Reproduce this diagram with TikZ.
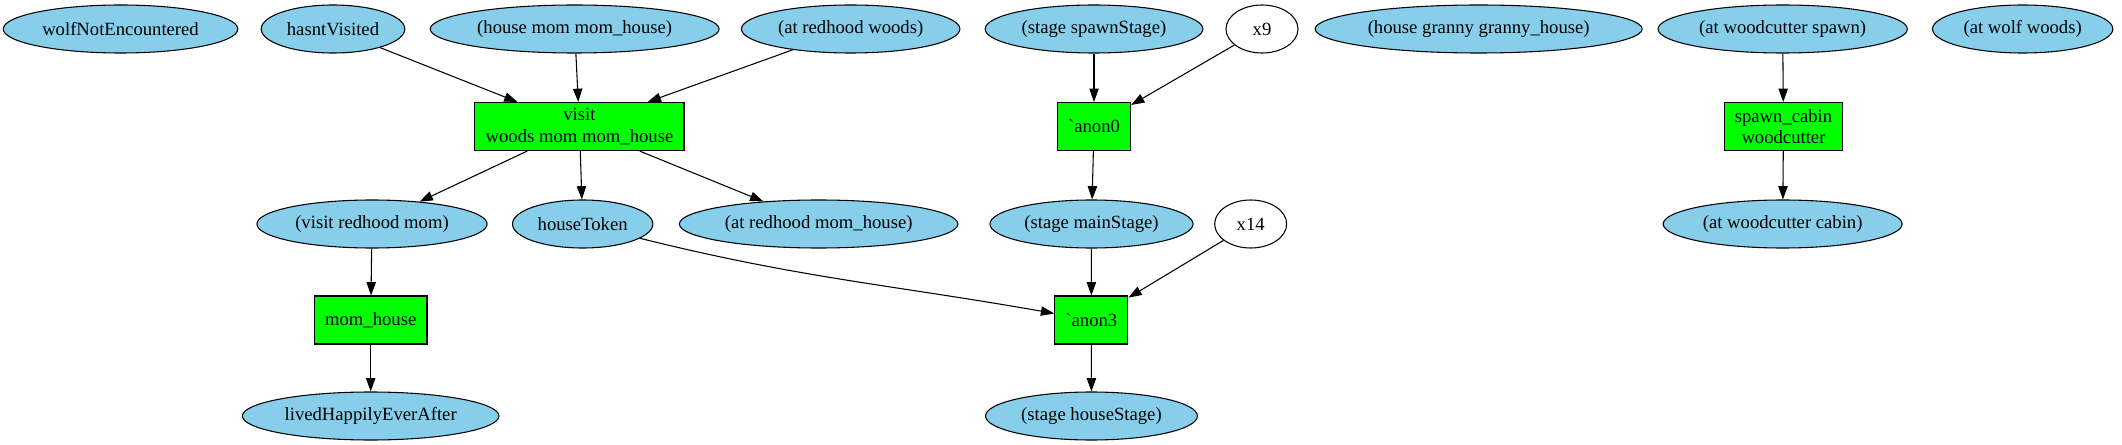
\documentclass[tikz,border=0pt]{standalone}
\usepackage{fontspec}
\setmainfont{Liberation Serif}
\usetikzlibrary{shapes.geometric,arrows.meta}
\definecolor{skyblue}{HTML}{87CEEB}
\definecolor{actgreen}{HTML}{00FF00}
\tikzstyle{fact-node} = [ellipse, draw=black, fill=skyblue, line width=0.8pt,
    inner xsep=3.5pt, inner ysep=2pt, minimum width=54pt, minimum height=36pt,
    font=\fontsize{14}{16}\selectfont]
\tikzstyle{param-node} = [fact-node, fill=white]
\tikzstyle{action-box} = [rectangle, draw=black, fill=actgreen, line width=0.8pt,
    inner xsep=8pt, inner ysep=2pt, minimum width=54pt, minimum height=36pt,
    align=center, font=\fontsize{14}{16}\selectfont]
\tikzstyle{flow-edge} = [line width=0.8pt, -{Triangle[length=10pt,width=7pt]}]
\newcommand{\anon}[1]{\textasciigrave anon#1}

\begin{document}
\begin{tikzpicture}[x=1pt,y=-1pt]
\useasboundingbox (0,0) rectangle (1591.5,333.75);
% top row
\node [fact-node] (wolfNotEnc) at (90.4,21.75) {wolfNotEncountered};
\node [fact-node] (hasntVisited) at (249.75,21.75) {hasntVisited};
\node [fact-node] (houseMom) at (431,21.75) {(house mom mom\_house)};
\node [fact-node] (atRedhoodWoods) at (638,21.75) {(at redhood woods)};
\node [fact-node] (spawnStage) at (820.5,21.75) {(stage spawnStage)};
\node [param-node] (x9) at (946.5,21.75) {x9};
\node [fact-node] (houseGranny) at (1109,21.75) {(house granny granny\_house)};
\node [fact-node] (atCutterSpawn) at (1337,21.75) {(at woodcutter spawn)};
\node [fact-node] (atWolfWoods) at (1517,21.75) {(at wolf woods)};
% actions
\node [action-box] (visit) at (434.6,94.9) {visit\\woods mom mom\_house};
\node [action-box] (anon0) at (820.5,94.9) {\anon{0}};
\node [action-box] (spawnCabin) at (1337.6,94.9) {spawn\_cabin\\woodcutter};
% middle row
\node [fact-node] (visitRedhood) at (279,168) {(visit redhood mom)};
\node [fact-node] (houseToken) at (437,168) {houseToken};
\node [fact-node] (atRedhoodHouse) at (614,168) {(at redhood mom\_house)};
\node [fact-node] (mainStage) at (818.6,168) {(stage mainStage)};
\node [param-node] (x14) at (938,168) {x14};
\node [fact-node] (atCutterCabin) at (1337,168) {(at woodcutter cabin)};
\node [action-box] (momHouse) at (278,240) {mom\_house};
\node [action-box] (anon3) at (818.5,240) {\anon{3}};
% bottom row
\node [fact-node] (livedHappily) at (278,312) {livedHappilyEverAfter};
\node [fact-node] (houseStage) at (818.6,312) {(stage houseStage)};

\draw [flow-edge] (hasntVisited) -- (visit);
\draw [flow-edge] (houseMom) -- (visit);
\draw [flow-edge] (atRedhoodWoods) -- (visit);
\draw [flow-edge] (visit) -- (visitRedhood);
\draw [flow-edge] (visit) -- (houseToken);
\draw [flow-edge] (visit) -- (atRedhoodHouse);
\draw [flow-edge] (spawnStage) -- (anon0);
\draw [flow-edge] (x9) -- (anon0);
\draw [flow-edge] (anon0) -- (mainStage);
\draw [flow-edge] (visitRedhood) -- (momHouse);
\draw [flow-edge] (momHouse) -- (livedHappily);
\draw [flow-edge] (houseToken) to[out=-14,in=170] (anon3);
\draw [flow-edge] (mainStage) -- (anon3);
\draw [flow-edge] (x14) -- (anon3);
\draw [flow-edge] (anon3) -- (houseStage);
\draw [flow-edge] (atCutterSpawn) -- (spawnCabin);
\draw [flow-edge] (spawnCabin) -- (atCutterCabin);
\end{tikzpicture}
\end{document}
